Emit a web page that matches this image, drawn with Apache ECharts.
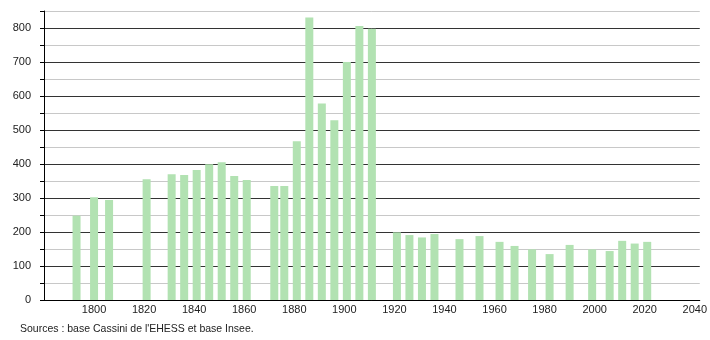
<!DOCTYPE html>
<html><head><meta charset="utf-8">
<script src="https://cdn.jsdelivr.net/npm/echarts@6/dist/echarts.min.js"></script>
<style>html,body{margin:0;padding:0;background:#fff}#c{width:710px;height:340px}</style>
</head><body><div id="c"></div>
<script>
const years = [1793,1800,1806,1821,1831,1836,1841,1846,1851,1856,1861,1872,1876,1881,1886,1891,1896,1901,1906,1911,1921,1926,1931,1936,1946,1954,1962,1968,1975,1982,1990,1999,2006,2011,2016,2021];
const population = [248,302,294,355,370,368,382,399,405,365,353,335,335,467,831,578,529,700,806,798,199,191,184,194,179,188,171,159,149,135,162,149,144,174,166,171];
const sourceText = "Sources : base Cassini de l'EHESS et base Insee.";

const chart = echarts.init(document.getElementById('c'), null, {renderer:'canvas'});
chart.setOption({
  animation:false,
  textStyle:{fontFamily:'Liberation Sans, Arial, sans-serif'},
  grid:{left:44,right:10,top:11,bottom:40,containLabel:false},
  xAxis:{type:'value',min:1780,max:2042,interval:20,
    axisLine:{show:true,lineStyle:{color:'#000',width:1}},
    axisTick:{show:false},
    splitLine:{show:false},
    axisLabel:{color:'#222',fontSize:11,margin:4,
      formatter:v=> (v%20===0 && v>1780) ? String(v) : ''}
  },
  yAxis:{type:'value',min:0,max:850,interval:50,
    axisLine:{show:true,lineStyle:{color:'#000',width:1}},
    axisTick:{show:true,length:4,lineStyle:{color:'#000'}},
    splitLine:{show:true,lineStyle:{color:['#333','#c8c8c8'],width:1}},
    axisLabel:{color:'#222',fontSize:11,margin:13,
      formatter:v=> v%100===0 ? String(v) : ''}
  },
  series:[{type:'bar',barWidth:8,
    data:years.map((y,i)=>[y,population[i]]),
    itemStyle:{color:'#b2e2b2'}
  }],
  graphic:[{type:'text',left:20,top:324,style:{text:sourceText,fontSize:10.5,fill:'#222',fontFamily:'Liberation Sans, Arial, sans-serif'}}]
});
</script></body></html>
